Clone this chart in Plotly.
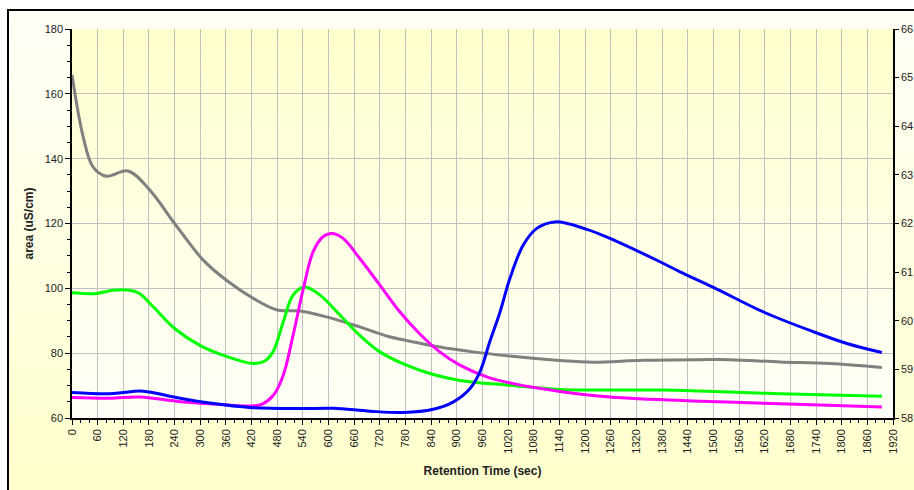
import plotly.graph_objects as go

# ---- data ----
gray_t = [0, 26, 49, 80, 131, 182, 240, 307, 361, 424, 478, 533, 595, 673, 736, 790, 860, 938, 1024, 1141, 1219, 1336, 1469, 1539, 1656, 1772, 1894]
gray_v = [165.8, 146.8, 137.5, 134.6, 136.2, 130.3, 120.0, 108.7, 102.5, 96.9, 93.4, 93.0, 91.2, 88.1, 85.3, 83.7, 81.9, 80.4, 79.1, 77.7, 77.2, 77.8, 78.0, 78.0, 77.3, 76.8, 75.6]

green_t = [0, 57, 96, 135, 158, 190, 240, 299, 361, 424, 450, 470, 494, 517, 544, 580, 627, 673, 720, 782, 845, 907, 1024, 1141, 1375, 1469, 1656, 1894]
green_v = [98.6, 98.4, 99.4, 99.4, 98.4, 94.3, 87.6, 82.4, 79.0, 76.8, 77.5, 80.4, 89.6, 97.9, 100.4, 97.9, 91.7, 85.5, 80.4, 76.3, 73.4, 71.6, 70.1, 68.8, 68.6, 68.3, 67.5, 66.7]

magenta_t = [0, 88, 158, 244, 322, 420, 445, 471, 494, 517, 541, 564, 587, 607, 634, 673, 720, 767, 813, 860, 907, 970, 1032, 1141, 1258, 1469, 1656, 1894]
magenta_v = [66.3, 66.1, 66.5, 65.2, 64.4, 63.7, 64.3, 67.0, 73.2, 85.5, 99.9, 111.3, 115.9, 116.9, 115.4, 109.2, 101.0, 92.7, 86.0, 80.4, 76.3, 72.7, 70.6, 68.2, 66.5, 65.2, 64.4, 63.4]

blue_t = [0, 88, 158, 182, 244, 322, 420, 533, 611, 697, 775, 845, 891, 931, 954, 977, 1001, 1024, 1055, 1087, 1130, 1204, 1258, 1375, 1422, 1500, 1617, 1734, 1812, 1894]
blue_v = [67.9, 67.5, 68.3, 68.0, 66.3, 64.6, 63.2, 62.9, 63.0, 62.1, 61.7, 62.7, 64.9, 69.1, 74.2, 83.5, 92.7, 103.0, 113.3, 118.5, 120.5, 118.2, 115.4, 108.2, 105.1, 100.3, 92.7, 86.6, 83.0, 80.2]

x_title = "Retention Time (sec)"
y_title = "area (uS/cm)"

FONT = "Liberation Sans, Arial, sans-serif"

fig = go.Figure()
for t, v, c in [(gray_t, gray_v, "#808080"), (green_t, green_v, "#00FF00"),
                (magenta_t, magenta_v, "#FF00FF"), (blue_t, blue_v, "#0000FF")]:
    fig.add_trace(go.Scatter(x=t, y=v, mode="lines",
                             line=dict(color=c, width=3, shape="spline", smoothing=1.0),
                             showlegend=False, hoverinfo="skip"))
# empty trace to carry the secondary axis
fig.add_trace(go.Scatter(x=[None], y=[None], yaxis="y2", showlegend=False, hoverinfo="skip"))

W, H = 914, 490
ML, MR, MT, MB = 72, 21, 29, 72
pw, ph = W - ML - MR, H - MT - MB

def px2x(p):
    return (p - ML) / pw

def py2y(p):
    return (H - MB - p) / ph

def mix(c1, c2, f):
    return "rgb(%d,%d,%d)" % tuple(round(a + (b - a) * f) for a, b in zip(c1, c2))

shapes = []
# outer chart-area gradient (whitish top -> yellow bottom)
N = 40
top, bot = 10, 490
for i in range(N):
    y0p = top + (bot - top) * i / N
    y1p = top + (bot - top) * (i + 1) / N
    shapes.append(dict(type="rect", xref="paper", yref="paper",
                       x0=px2x(8), x1=px2x(914), y0=py2y(y1p), y1=py2y(y0p),
                       fillcolor=mix((255, 255, 248), (255, 255, 204), (i + 0.5) / N),
                       line=dict(width=0, color="rgba(0,0,0,0)"), layer="below"))
# plot-area gradient (yellow top -> near white bottom)
for i in range(N):
    shapes.append(dict(type="rect", xref="paper", yref="paper",
                       x0=0, x1=1, y0=1 - (i + 1) / N, y1=1 - i / N,
                       fillcolor=mix((255, 255, 204), (255, 255, 250), (i + 0.5) / N),
                       line=dict(width=0, color="rgba(0,0,0,0)"), layer="below"))
# chart frame (left and top edges visible)
shapes.append(dict(type="line", xref="paper", yref="paper",
                   x0=px2x(8), x1=px2x(8), y0=py2y(490), y1=py2y(10),
                   line=dict(color="black", width=2), layer="above"))
shapes.append(dict(type="line", xref="paper", yref="paper",
                   x0=px2x(7), x1=px2x(914), y0=py2y(10), y1=py2y(10),
                   line=dict(color="black", width=2), layer="above"))

tickfont = dict(family=FONT, size=11, color="#222222")
fig.update_layout(
    width=W, height=H,
    margin=dict(l=ML, r=MR, t=MT, b=MB, pad=0, autoexpand=False),
    paper_bgcolor="white",
    plot_bgcolor="rgba(0,0,0,0)",
    shapes=shapes,
    font=dict(family=FONT, color="#222222"),
    xaxis=dict(range=[0, 1920], tick0=0, dtick=60, tickangle=-90, automargin=False,
               showgrid=True, gridcolor="#C0C0C0", gridwidth=1, zeroline=False,
               showline=True, linecolor="black", linewidth=1.5,
               ticks="outside", ticklen=5, tickcolor="black", tickwidth=1.2,
               minor=dict(dtick=20, ticks="outside", ticklen=3, tickcolor="black", showgrid=False),
               tickfont=tickfont,
               title=dict(text="<b>" + x_title + "</b>", font=dict(family=FONT, size=12, color="#222222"), standoff=14)),
    yaxis=dict(range=[60, 180], tick0=60, dtick=20, automargin=False,
               showgrid=True, gridcolor="#C0C0C0", gridwidth=1, zeroline=False,
               showline=True, linecolor="black", linewidth=1.5,
               ticks="outside", ticklen=5, tickcolor="black", tickwidth=1.2,
               minor=dict(dtick=5, ticks="outside", ticklen=3, tickcolor="black", showgrid=False),
               tickfont=tickfont,
               title=dict(text="<b>" + y_title + "</b>", font=dict(family=FONT, size=12, color="#222222"), standoff=8)),
    yaxis2=dict(range=[58, 66], tick0=58, dtick=1, overlaying="y", side="right", automargin=False,
                showgrid=False, zeroline=False,
                showline=True, linecolor="black", linewidth=1.5,
                ticks="outside", ticklen=4, tickcolor="black", tickwidth=1.2,
                tickfont=tickfont),
)

fig.write_html("out.html", config={"displayModeBar": False},
               post_script="document.documentElement.style.overflow='hidden';document.body.style.margin='0';document.body.style.overflow='hidden';")
